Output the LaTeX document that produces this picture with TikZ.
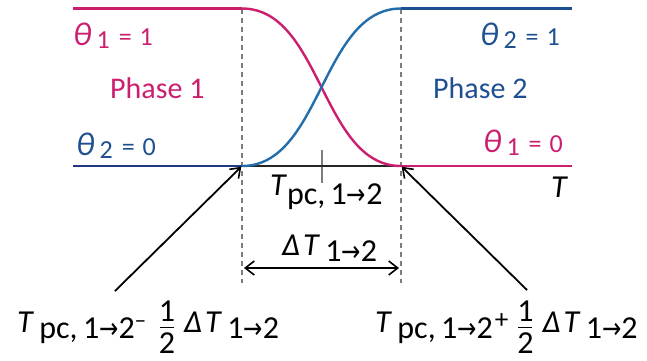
\documentclass[tikz,border=0pt]{standalone}
\usepackage{fontspec}
\setmainfont{Carlito}
\newfontfamily\symfont{DejaVu Sans}
\usepackage{xcolor}
\definecolor{phpink}{RGB}{204,30,110}
\definecolor{phblue}{RGB}{30,80,145}
\definecolor{phcurve}{RGB}{35,110,170}
\definecolor{phnavy}{RGB}{35,55,130}
\definecolor{phgray}{RGB}{125,125,125}
\usetikzlibrary{arrows.meta, positioning}

\newcommand\arr{{\symfont\scalebox{0.72}[0.9]{→}}}
\newcommand\lowsub[1]{\raisebox{-6pt}{#1}}
\newcommand\half{\raisebox{-21pt}{\shortstack{1\\[2pt]\rule{14pt}{1.3pt}\\[1pt]2}}}
\newcommand\dT{\textit{Δ}\hspace{3pt}\textit{T}}
\newcommand\thsym{{\fontsize{33}{35}\selectfont\itshape θ}}
\newcommand\thval[2]{\thsym\hspace{5pt}\raisebox{-3pt}{#1}\hspace{9pt}=\hspace{8pt}#2}

\begin{document}
\begin{tikzpicture}[x=1pt, y=-1pt,
  fatline/.style={line width=2.6pt},
  curve/.style={line width=2.4pt},
  guide/.style={draw=phgray, line width=1.1pt, dash pattern=on 5pt off 4pt},
  ptr/.style={-{Straight Barb[length=9pt, width=13pt, line width=1.6pt]}, line width=1.8pt},
  span/.style={{Straight Barb[length=9pt, width=14pt, line width=1.6pt]}-{Straight Barb[length=9pt, width=14pt, line width=1.6pt]}, line width=1.6pt},
  thlbl/.style={font=\fontsize{26}{29}\selectfont, inner sep=0pt, anchor=base west},
  phlbl/.style={font=\fontsize{30}{33}\selectfont, inner sep=0pt, anchor=base west},
  mainlbl/.style={font=\fontsize{32}{35}\selectfont, inner sep=0pt, anchor=base west}
]
\useasboundingbox (0,0) rectangle (647,360);

% key points of the plot
\coordinate (tl) at (73,8.5);
\coordinate (tr) at (572,8.5);
\coordinate (bl) at (73,166);
\coordinate (br) at (572,166);
\coordinate (ps) at (242,8.5);
\coordinate (lo) at (242,166);
\coordinate (hi) at (401,8.5);
\coordinate (re) at (401,166);
\coordinate (lgb) at (242,283);
\coordinate (rgb) at (401,283);
\coordinate (tkt) at (322,150);
\coordinate (tkb) at (322,183);

% guides
\draw[guide] (ps) -- (lgb);
\draw[guide] (hi) -- (rgb);
\draw[phgray, line width=1.5pt] (tkt) -- (tkb);

% flat parts
\draw[fatline, phpink] (tl) -- (ps);
\draw[fatline, phblue] (hi) -- (tr);
\draw[fatline, phnavy] (bl) -- (lo);
\draw[fatline, black!85] (lo) -- (re);
\draw[fatline, phpink] (re) -- (br);

% transitions
\draw[curve, phpink] (ps) .. controls (321.5,8.5) and (321.5,166) .. (re);
\draw[curve, phcurve] (lo) .. controls (321.5,166) and (321.5,8.5) .. (hi);

% labels
\node[thlbl, text=phpink] (th11) at (73,45) {\thval{1}{1}};
\node[thlbl, text=phblue] (th20) at (76,155) {\thval{2}{0}};
\node[thlbl, text=phblue, anchor=base east] (th21) at (560,45) {\thval{2}{1}};
\node[thlbl, text=phpink, anchor=base east] (th10) at (563,152) {\thval{1}{0}};
\node[phlbl, text=phpink] (ph1) at (110,98) {Phase 1};
\node[phlbl, text=phblue] (ph2) at (433,98) {Phase 2};
\node[mainlbl] (taxis) at (551,197) {\textit{T}};
\node[mainlbl] (tpc) at (270,195) {\textit{T}\raisebox{-9pt}{pc,\,1\arr2}};
\node[mainlbl] (dt) at (282,255) {\dT\,\lowsub{1\arr2}};
\node[mainlbl] (lowlbl) at (17,332)
  {\textit{T}\,\lowsub{pc,\,1\arr2}\raisebox{4pt}{\scalebox{0.7}{−}}\hspace{13pt}\half\hspace{9pt}\dT\,\lowsub{1\arr2}};
\node[mainlbl] (uplbl) at (375,332)
  {\textit{T}\,\lowsub{pc,\,1\arr2}\hspace{2pt}\raisebox{4pt}{\scalebox{0.85}{+}}\hspace{9pt}\half\hspace{9pt}\dT\,\lowsub{1\arr2}};

% arrows
\coordinate (wl) at (244,268);
\coordinate (wr) at (399,268);
\draw[span] (wl) -- (wr);
\coordinate (lp) at (115,291);
\coordinate (rp) at (527,290);
\draw[ptr, shorten >=1pt] (lp) -- (lo);
\draw[ptr, shorten >=1pt] (rp) -- (re);
\end{tikzpicture}
\end{document}
